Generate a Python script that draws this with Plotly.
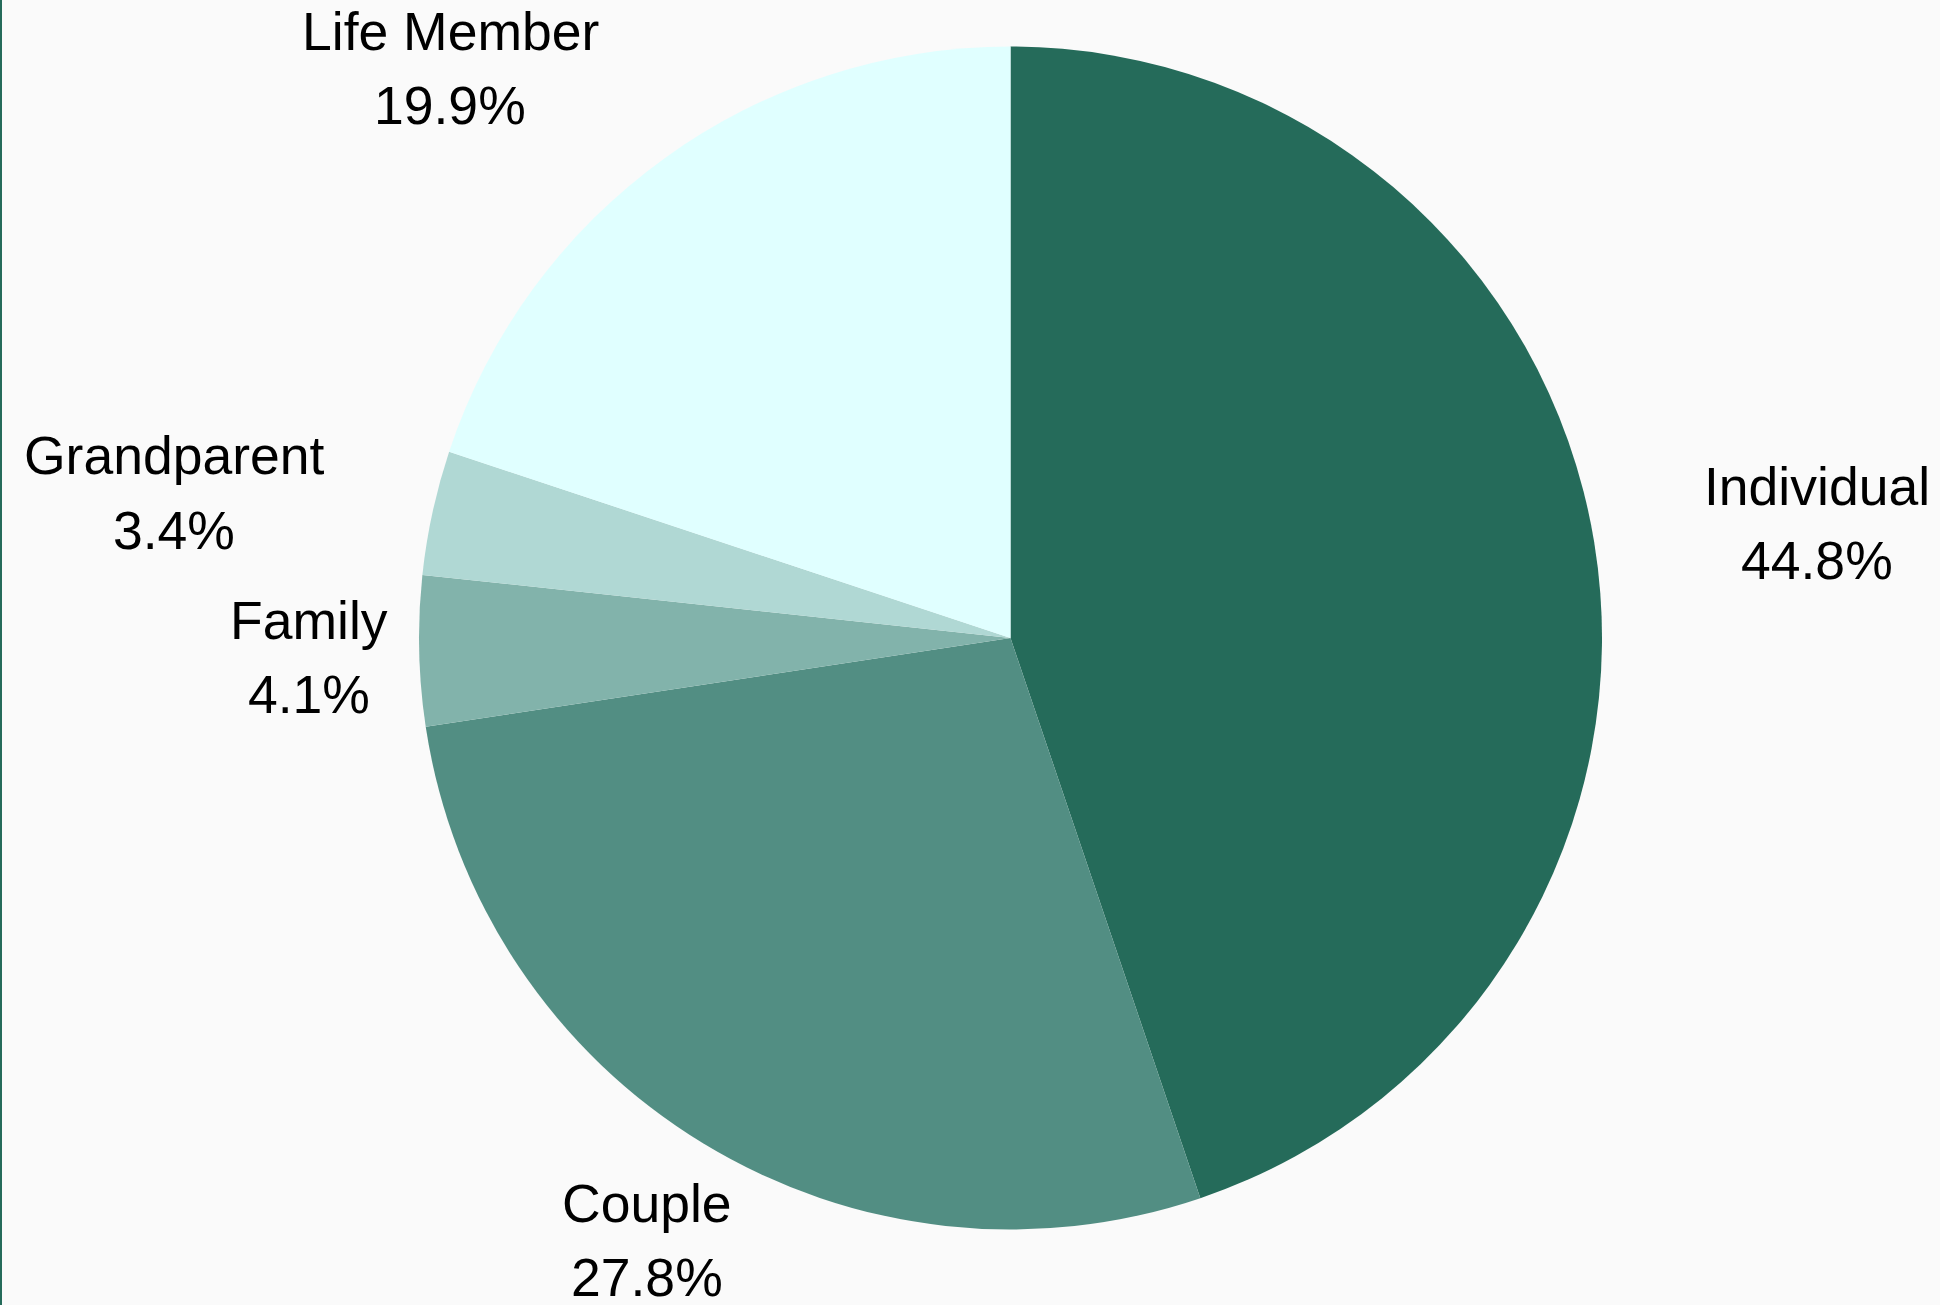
import plotly.graph_objects as go

# Membership breakdown
categories = ["Individual", "Couple", "Family", "Grandparent", "Life Member"]
shares = [44.8, 27.8, 4.1, 3.4, 19.9]

colors = ["#256b5a", "#528e83", "#82b3ab", "#b0d8d4", "#e0ffff"]

W, H = 1940, 1305
BG = "#fafafa"
FONT = "Liberation Sans, Arial, sans-serif"
FONT_SIZE = 53.5

# Label block centres in pixels: (x, y of name line, y of percent line)
label_pos = {
    "Individual": (1817, 486, 560),
    "Couple": (647, 1203, 1277),
    "Family": (309, 620, 694),
    "Grandparent": (174, 455, 530),
    "Life Member": (450, 32, 106),
}

fig = go.Figure(
    go.Pie(
        labels=categories,
        values=shares,
        sort=False,
        direction="clockwise",
        rotation=0,
        marker=dict(colors=colors, line=dict(width=0)),
        textinfo="none",
        hoverinfo="label+percent",
        showlegend=False,
        domain=dict(x=[419 / W, 1602 / W], y=[1 - 1230 / H, 1 - 46 / H]),
    )
)

total = sum(shares)
annotations = []
for name, val in zip(categories, shares):
    px, py1, py2 = label_pos[name]
    for txt, py in ((name, py1), (f"{val / total * 100:.1f}%", py2)):
        annotations.append(
            dict(
                x=px / W,
                y=1 - py / H,
                xref="paper",
                yref="paper",
                text=txt,
                showarrow=False,
                xanchor="center",
                yanchor="middle",
                font=dict(family=FONT, size=FONT_SIZE, color="#000000"),
            )
        )

fig.update_layout(
    width=W,
    height=H,
    margin=dict(l=0, r=0, t=0, b=0),
    paper_bgcolor=BG,
    plot_bgcolor=BG,
    annotations=annotations,
    shapes=[
        dict(
            type="rect",
            xref="paper",
            yref="paper",
            x0=0,
            x1=2 / W,
            y0=0,
            y1=1,
            fillcolor="#256b5a",
            line=dict(width=0),
            layer="above",
        )
    ],
)

fig.write_html("out.html")
